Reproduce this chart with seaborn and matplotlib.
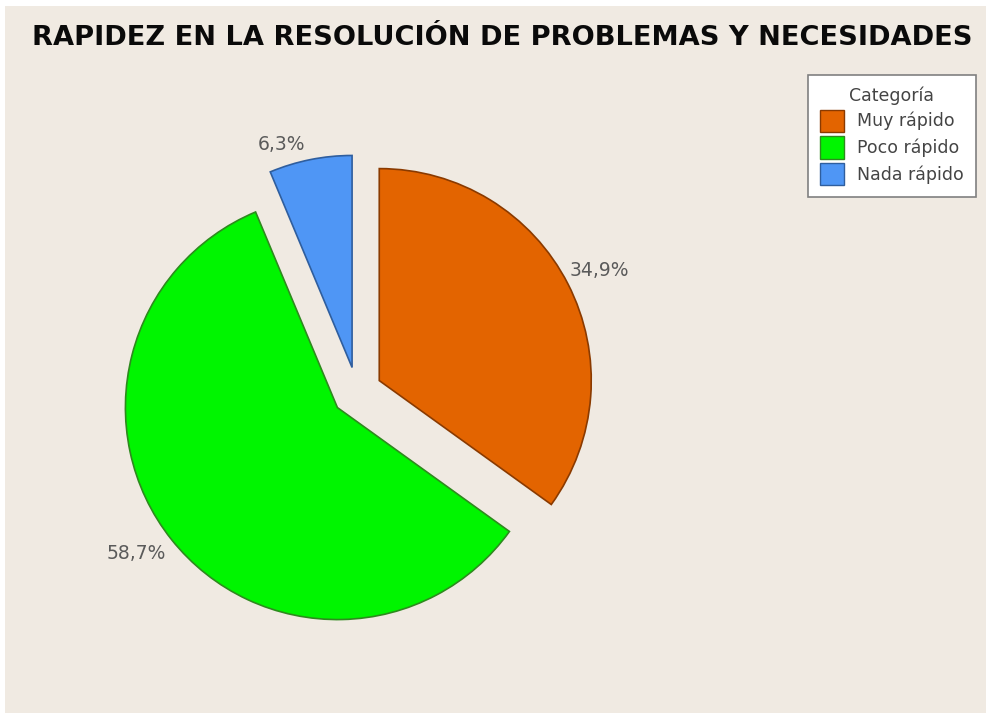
import matplotlib
matplotlib.use("Agg")
import matplotlib.pyplot as plt
import matplotlib.patches as mpatches
import seaborn as sns

# Survey data: speed in solving problems and needs
categories = ["Muy rápido", "Poco rápido", "Nada rápido"]
percentages = [34.9, 58.7, 6.3]
slice_colors = ["#E36400", "#00F500", "#4F96F5"]
edge_colors = ["#8A3A00", "#2E8A1E", "#2F5E9E"]

sns.set_theme(style="white")
plt.rcParams["font.family"] = ["DejaVu Sans"]

BG = "#F0EAE2"
W, H = 986, 715
fig = plt.figure(figsize=(W / 100, H / 100), dpi=100)
fig.patch.set_facecolor("white")
# beige panel inside a thin white margin
panel = mpatches.Rectangle((5 / W, 2 / H), 1 - 5 / W, 1 - 8 / H,
                           transform=fig.transFigure,
                           facecolor=BG, edgecolor="none", zorder=-10)
fig.patches.append(panel)

# square axes centred on the pie
cx, cy = 357, H - 392
side = 600
ax = fig.add_axes([(cx - side / 2) / W, (cy - side / 2) / H, side / W, side / H])
ax.set_zorder(1)
ax.set_facecolor("none")
lim = side / (2 * 212)

pct_labels = [f"{v:.1f}%".replace(".", ",") for v in percentages]
wedges, texts = ax.pie(
    percentages,
    labels=pct_labels,
    colors=slice_colors,
    explode=[0.118] * len(percentages),
    startangle=90,
    counterclock=False,
    radius=1.0,
    textprops=dict(color="#5A5A5A", fontsize=13.5),
)
# percentage labels: centred text just outside each wedge's arc,
# offsets given relative to the wedge's own centre (in radius units)
label_offsets = [(1.04, 0.52), (-0.95, -0.69), (-0.335, 1.05)]
for w, ec, t, (ox, oy) in zip(wedges, edge_colors, texts, label_offsets):
    w.set_edgecolor(ec)
    w.set_linewidth(1.2)
    x0, y0 = w.center
    t.set_position((x0 + ox * w.r, y0 + oy * w.r))
    t.set_ha("center")
    t.set_va("center")
ax.set_xlim(-lim, lim)
ax.set_ylim(-lim, lim)
ax.set_aspect("equal")
ax.axis("off")

fig.text(502 / W, 1 - 38 / H, "RAPIDEZ EN LA RESOLUCIÓN DE PROBLEMAS Y NECESIDADES",
         ha="center", va="center", fontsize=19.6, fontweight="bold", color="#0A0A0A")

handles = [mpatches.Patch(facecolor=c, edgecolor=e, linewidth=1) for c, e in zip(slice_colors, edge_colors)]
leg = fig.legend(handles, categories, title="Categoría",
                 loc="upper right", bbox_to_anchor=(976 / W, 1 - 75 / H),
                 frameon=True, fancybox=False, fontsize=12.5, title_fontsize=12.5,
                 handlelength=1.38, handleheight=1.6, handletextpad=0.8,
                 labelspacing=0.25, borderpad=0.68, borderaxespad=0.0)
leg.set_zorder(5)
leg.get_frame().set_edgecolor("#808080")
leg.get_frame().set_linewidth(1.2)
leg.get_frame().set_facecolor("white")
leg.get_frame().set_alpha(1)
for t in leg.get_texts():
    t.set_color("#444444")
leg.get_title().set_color("#444444")

fig.savefig("out.png", dpi=100, facecolor=fig.get_facecolor())
